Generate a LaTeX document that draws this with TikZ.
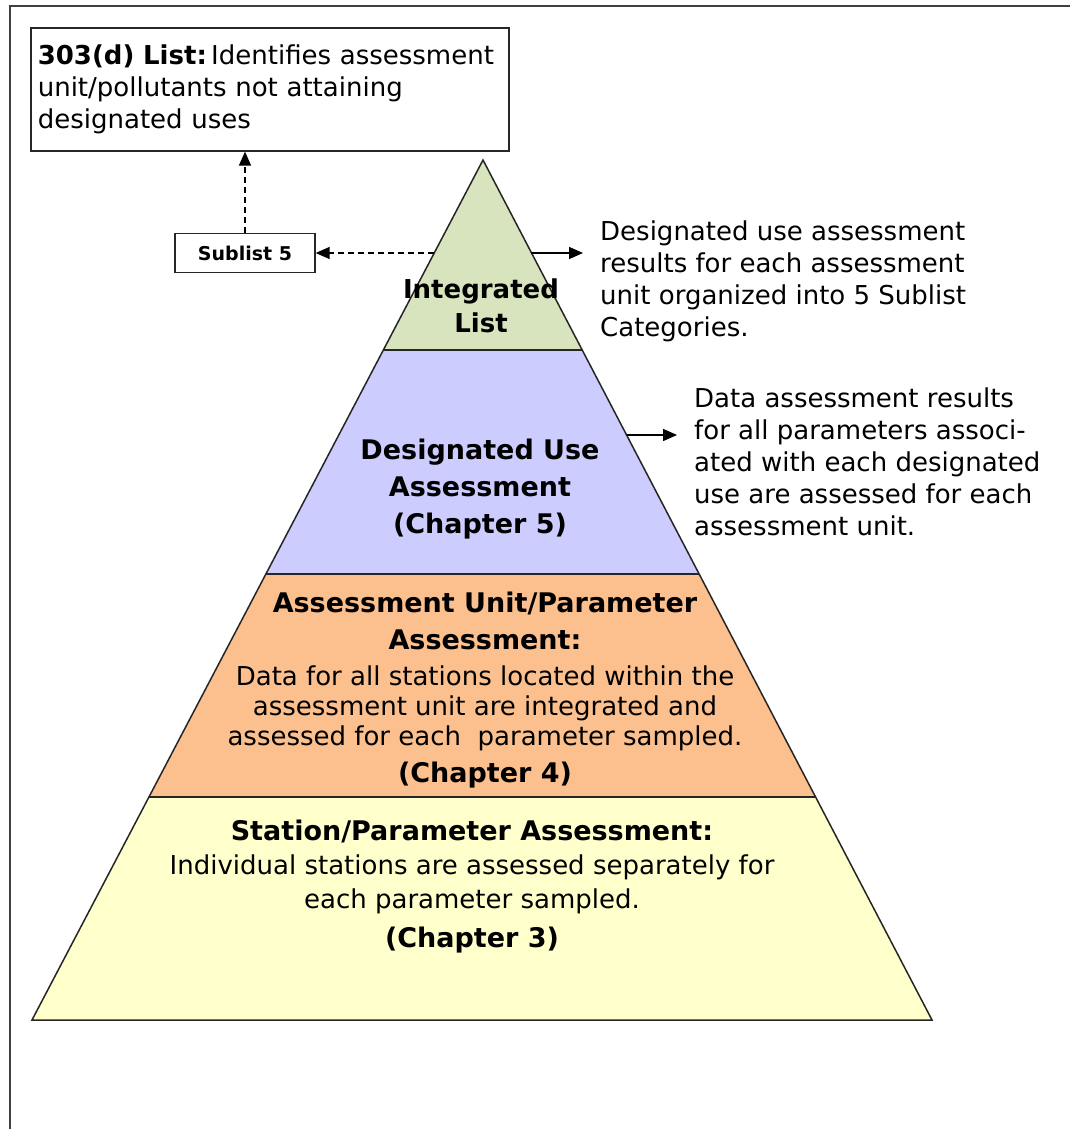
\documentclass[tikz,border=0pt]{standalone}
\usepackage{fontspec}
\setmainfont{DejaVu Sans}
\usetikzlibrary{arrows.meta,positioning}

\definecolor{listgreen}{RGB}{215,228,189}
\definecolor{uselilac}{RGB}{204,204,255}
\definecolor{unitorange}{RGB}{251,192,142}
\definecolor{stationyellow}{RGB}{255,255,204}

\newcommand{\desctext}{\fontsize{26}{32}\selectfont\mdseries}
\newcommand{\headtext}{\fontsize{27}{37}\selectfont\bfseries}

\tikzset{
  levelline/.style={draw=black!85, line width=1.5pt},
  leveltext/.style={align=center, inner sep=0pt, font=\headtext},
  notetext/.style={align=left, inner sep=0pt, anchor=west, font=\desctext},
  listbox/.style={draw=black!85, line width=1.6pt, fill=white},
  link/.style={-{Triangle[length=14pt,width=12pt]}, line width=1.5pt},
}

\begin{document}
\begin{tikzpicture}[x=1pt, y=-1pt]
  \useasboundingbox (0,0) rectangle (1070,1129);
  % outer frame
  \draw[black!75, line width=2pt] (10,1129) -- (10,6) -- (1070,6);

  % pyramid corners
  \coordinate (apex) at (483,160);
  \coordinate (l1) at (383,350);  \coordinate (r1) at (582,350);
  \coordinate (l2) at (266,574);  \coordinate (r2) at (699,574);
  \coordinate (l3) at (149,797);  \coordinate (r3) at (816,797);
  \coordinate (l4) at (32,1020);  \coordinate (r4) at (932,1020);

  \fill[listgreen] (apex) -- (r1) -- (l1) -- cycle;
  \fill[uselilac] (l1) -- (r1) -- (r2) -- (l2) -- cycle;
  \fill[unitorange] (l2) -- (r2) -- (r3) -- (l3) -- cycle;
  \fill[stationyellow] (l3) -- (r3) -- (r4) -- (l4) -- cycle;
  \draw[levelline] (apex) -- (r4) -- (l4) -- cycle;
  \draw[levelline] (l1) -- (r1);
  \draw[levelline] (l2) -- (r2);
  \draw[levelline] (l3) -- (r3);

  % level labels
  \node[leveltext, font=\fontsize{26}{34}\selectfont\bfseries] (integrated) at (481,306)
    {Integrated\\List};
  \node[leveltext] (designated) at (480,489)
    {Designated Use\\Assessment\\(Chapter 5)};
  \node[leveltext] (unit) at (485,690)
    {Assessment Unit/Parameter\\Assessment:\\[-1pt]
     {\desctext Data for all stations located within the}\\[-7pt]
     {\desctext assessment unit are integrated and}\\[-7pt]
     {\desctext assessed for each\ \ parameter sampled.}\\[0pt]
     (Chapter 4)};
  \node[leveltext] (station) at (472,887)
    {Station/Parameter Assessment:\\[-3pt]
     {\desctext Individual stations are assessed separately for}\\[-3pt]
     {\desctext each parameter sampled.}\\[2pt]
     (Chapter 3)};

  % boxes
  \node[listbox, anchor=north west, minimum width=478pt, minimum height=123pt,
        inner xsep=7pt, align=left, font=\desctext, text width=464pt] (list303) at (30,27)
    {{\fontsize{26}{32}\selectfont\bfseries 303(d) List:}\,Identifies assessment\\
     unit/pollutants not attaining\\
     designated uses};
  \node[listbox, line width=1.3pt, minimum width=140pt, minimum height=39pt,
        font=\fontsize{19}{22}\selectfont\bfseries] (sub5) at (245,253) {Sublist 5};

  % notes
  \node[notetext] (sortnote) at (600,281)
    {Designated use assessment\\results for each assessment\\unit organized into 5 Sublist\\Categories.};
  \node[notetext] (usenote) at (694,462)
    {Data assessment results\\for all parameters associ-\\ated with each designated\\use are assessed for each\\assessment unit.};

  % connectors
  \coordinate (leftedge) at (434,253);
  \coordinate (rightedge) at (531,253);
  \coordinate (sortend) at (583,253);
  \coordinate (useedge) at (627,435);
  \coordinate (useend) at (677,435);
  \draw[link, dashed, dash pattern=on 6pt off 4pt] (leftedge) -- (sub5.east);
  \draw[link, dashed, dash pattern=on 6pt off 4pt] (sub5.north) -- (sub5.north |- list303.south);
  \draw[link] (rightedge) -- (sortend);
  \draw[link] (useedge) -- (useend);
\end{tikzpicture}
\end{document}
